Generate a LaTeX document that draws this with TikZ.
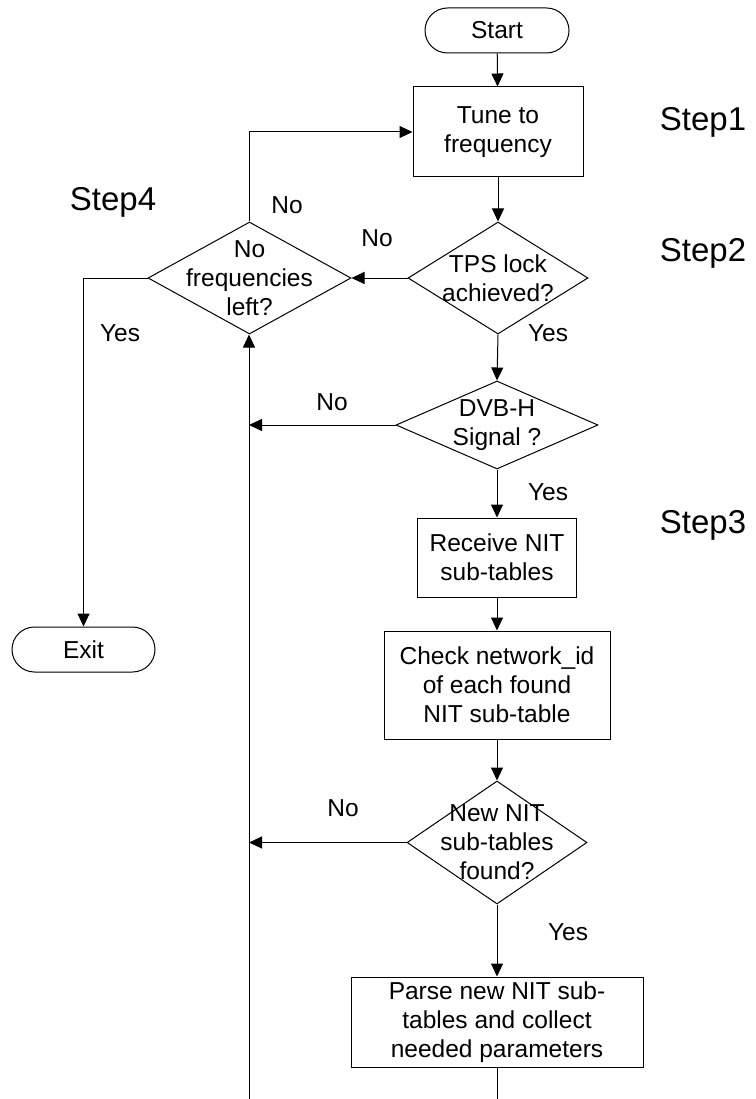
\documentclass[tikz,border=0pt]{standalone}
\usepackage{fontspec}
\setmainfont{Liberation Sans}
\usetikzlibrary{arrows.meta,shapes.geometric}
\begin{document}
\begin{tikzpicture}[x=1pt,y=-1pt,
  every node/.style={font=\fontsize{24.5}{29}\selectfont, inner sep=0pt},
  terminal/.style={draw, line width=1pt, rounded corners=22.5pt, minimum height=45pt},
  process/.style={draw, line width=1pt, align=center},
  decision/.style={draw, line width=1pt, diamond, inner sep=0pt},
  dtext/.style={align=center},
  tag/.style={},
  steplabel/.style={font=\fontsize{33}{38}\selectfont},
  flow/.style={line width=1pt, -{Triangle[length=13pt,width=12pt]}},
  plain/.style={line width=1pt}]
\useasboundingbox (0,0) rectangle (755,1099);

% main column
\node[terminal, minimum width=144pt] (start) at (497,30.5) {Start};
\node[process, minimum width=170pt, minimum height=90pt] (tune) at (498,132) {Tune to\\frequency};
\node[decision, minimum width=180pt, minimum height=112pt] (tps) at (498,278) {};
\node[dtext] at (tps.center) {TPS lock\\achieved?};
\node[decision, minimum width=203pt, minimum height=112pt] (nofreq) at (249.5,278) {};
\node[dtext] at (nofreq.center) {No\\frequencies\\left?};
\node[decision, minimum width=202pt, minimum height=88pt] (dvb) at (497,425) {};
\node[dtext] at (dvb.center) {DVB-H\\Signal ?};
\node[process, minimum width=159pt, minimum height=79pt] (recv) at (497,557.5) {Receive NIT\\sub-tables};
\node[process, minimum width=226pt, minimum height=108pt] (check) at (497,685) {Check network\_id\\of each found\\NIT sub-table};
\node[decision, minimum width=180pt, minimum height=123pt] (newnit) at (497,842.5) {};
\node[dtext] at (newnit.center) {New NIT\\sub-tables\\found?};
\node[process, minimum width=292pt, minimum height=90pt] (parse) at (497,1022) {Parse new NIT sub-\\tables and collect\\needed parameters};
\node[terminal, minimum width=143pt] (exit) at (83.5,649.5) {Exit};

% open ends at the lower edge
\coordinate (busB) at (249,1099);
\coordinate (mainB) at (497,1099);

% connectors
\draw[flow] (start) -- (tune);
\draw[flow] (tune) -- (tps);
\draw[flow] (tps.west) -- (nofreq.east);
\draw[flow] (nofreq.north) |- (tune.west);
\draw[flow] (nofreq.west) -| (exit.north);
\draw[flow] (tps.south) -- (dvb.north);
\draw[flow] (dvb.west) -- (dvb.west -| busB);
\draw[flow] (dvb.south) -- (recv.north);
\draw[flow] (recv) -- (check);
\draw[flow] (check.south) -- (newnit.north);
\draw[flow] (newnit.west) -- (newnit.west -| busB);
\draw[flow] (newnit.south) -- (parse.north);
\draw[plain] (parse.south) -- (mainB);
\draw[flow] (busB) -- (busB |- nofreq.south);

% branch labels
\node[tag] (l1) at (287,205) {No};
\node[tag] (l2) at (377,238) {No};
\node[tag] (l3) at (120,333) {Yes};
\node[tag] (l4) at (548,333) {Yes};
\node[tag] (l5) at (332,402) {No};
\node[tag] (l6) at (548,492) {Yes};
\node[tag] (l7) at (343,808) {No};
\node[tag] (l8) at (568,932) {Yes};

% step markers
\node[steplabel] (s1) at (703,122) {Step1};
\node[steplabel] (s2) at (703,253) {Step2};
\node[steplabel] (s3) at (703,525) {Step3};
\node[steplabel] (s4) at (113,202) {Step4};
\end{tikzpicture}
\end{document}
